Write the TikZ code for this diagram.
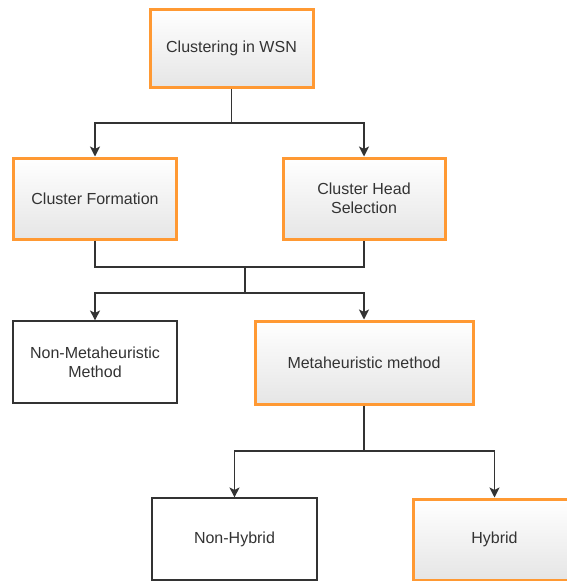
\documentclass[tikz,border=0pt]{standalone}
\usepackage{fontspec}
\setmainfont{Liberation Sans}
\usetikzlibrary{arrows.meta}
\definecolor{BoxClr}{rgb}{1,0.6,0.2}
\definecolor{TxtClr}{rgb}{0.2,0.2,0.2}
\definecolor{LineClr}{rgb}{0.2,0.2,0.2}
\definecolor{ShadeClr}{rgb}{0.9,0.9,0.9}

\begin{document}
\begin{tikzpicture}[x=1pt,y=-1pt,
  font=\fontsize{16}{19}\selectfont,
  hibox/.style={draw=BoxClr,line width=3pt,top color=white,bottom color=ShadeClr,
    text=TxtClr,inner sep=0pt,align=center},
  plainbox/.style={draw=black!80,line width=1.1pt,fill=white,text=TxtClr,
    inner sep=0pt,align=center},
  link/.style={draw=LineClr,line width=1.2pt},
  arr/.style={link,-{Stealth[width=10pt,length=10pt,inset=2.5pt]}}]
\useasboundingbox (0,0) rectangle (567,581);

\node[hibox,minimum width=163pt,minimum height=78pt] (wsn) at (231.5,48) {Clustering in WSN};
\node[hibox,minimum width=163pt,minimum height=81pt] (form) at (95,198.5) {Cluster Formation};
\node[hibox,minimum width=162pt,minimum height=81pt] (head) at (364,198.5) {Cluster Head\\Selection};
\node[plainbox,minimum width=164pt,minimum height=82pt] (nonmeta) at (95,362) {Non-Metaheuristic\\Method};
\node[hibox,minimum width=218pt,minimum height=83pt] (meta) at (364,362.5) {Metaheuristic method};
\node[plainbox,minimum width=165pt,minimum height=82pt] (nonhyb) at (234.5,539) {Non-Hybrid};
\node[hibox,minimum width=163pt,minimum height=81pt] (hyb) at (494.5,539.5) {Hybrid};

\coordinate (j1) at (231.5,123);
\coordinate (j2) at (245,267);
\coordinate (j3) at (245,293);
\coordinate (j4) at (364,451);

\draw[link] (wsn.south) -- (j1);
\draw[arr] (j1) -| (form.north);
\draw[arr] (j1) -| (head.north);

\draw[link] (form.south) |- (j2) -| (head.south);
\draw[link] (j2) -- (j3);
\draw[arr] (j3) -| (nonmeta.north);
\draw[arr] (j3) -| (meta.north);

\draw[link] (meta.south) -- (j4);
\draw[arr] (j4) -| (nonhyb.north);
\draw[arr] (j4) -| (hyb.north);

\end{tikzpicture}
\end{document}
